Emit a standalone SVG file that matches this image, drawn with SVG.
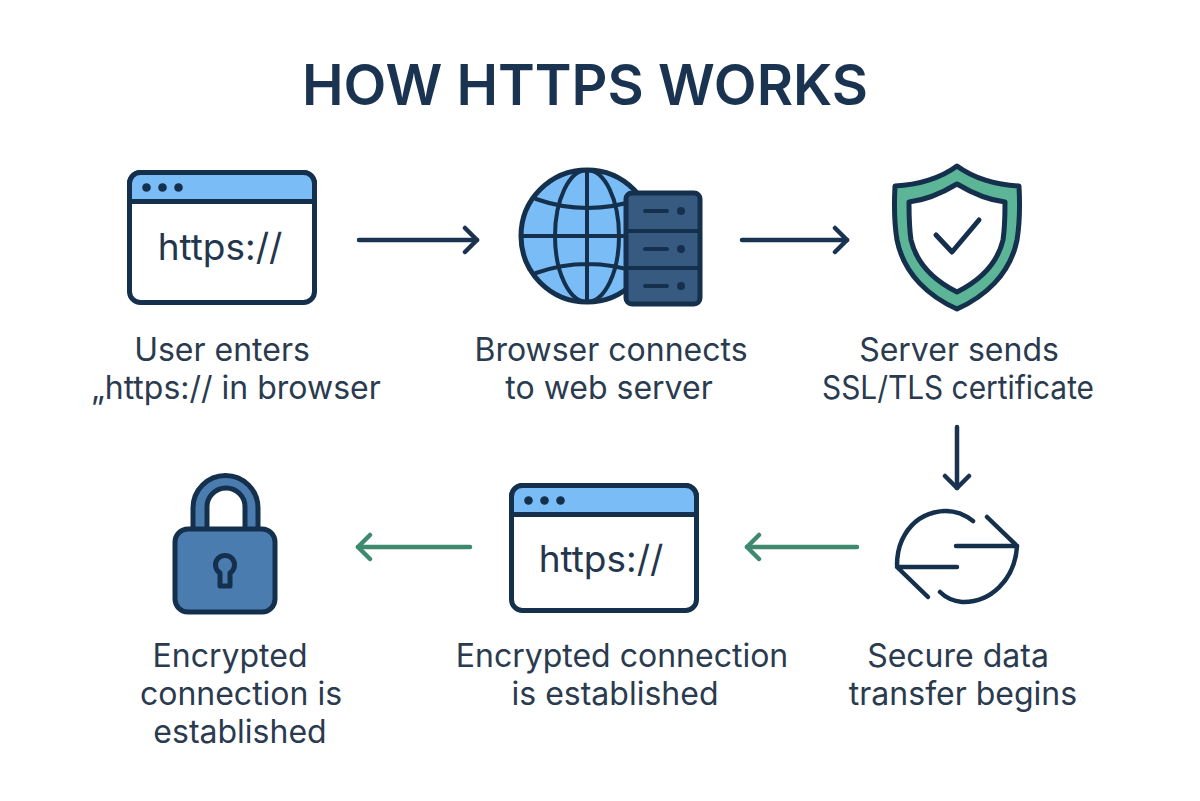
<svg xmlns="http://www.w3.org/2000/svg" width="1200" height="801" viewBox="0 0 1200 801">
<style>
text{font-family:"Inter","Liberation Sans",sans-serif;text-anchor:middle}
.t{font-size:55.7px;font-weight:600;fill:#1a3350}
.l{font-size:32px;fill:#2a3b4f}
.u{font-size:37px;fill:#24364c}
.o{stroke:#15304d;stroke-width:5;stroke-linejoin:round;stroke-linecap:round}
.w{stroke-width:4}
.n{fill:none}
.c{fill:none;stroke-width:4.5;stroke-linecap:round;stroke:#1a3350}
.g{stroke:#3f8a6e}
.d{fill:#15304d}
</style>
<defs>
<marker id="ah" markerUnits="userSpaceOnUse" markerWidth="24" markerHeight="32" refX="15" refY="16" orient="auto"><path d="M3 4L15 16L3 28" fill="none" stroke="#1a3350" stroke-width="4.5" stroke-linecap="round" stroke-linejoin="round"/></marker>
<marker id="ag" markerUnits="userSpaceOnUse" markerWidth="24" markerHeight="32" refX="15" refY="16" orient="auto"><path d="M3 4L15 16L3 28" fill="none" stroke="#3f8a6e" stroke-width="4.5" stroke-linecap="round" stroke-linejoin="round"/></marker>
<g id="bar">
<path d="M0 29V11A11 11 0 0 1 11 0H174A11 11 0 0 1 185 11V29Z" fill="#7abcf5" class="o"/>
<circle cx="17" cy="15" r="4.300" class="d"/><circle cx="33" cy="15" r="4.300" class="d"/><circle cx="49" cy="15" r="4.300" class="d"/>
</g>
</defs>
<rect width="1200" height="801" fill="#fff"/>
<text id="title" x="585" y="105" class="t" textLength="566" lengthAdjust="spacingAndGlyphs">HOW HTTPS WORKS</text>
<g id="connectors">
<path class="c" d="M359 240H477" marker-end="url(#ah)"/>
<path class="c" d="M742 240H847" marker-end="url(#ah)"/>
<path class="c" d="M957 427V488" marker-end="url(#ah)"/>
<path class="c g" d="M857 547H747" marker-end="url(#ag)"/>
<path class="c g" d="M470 547H358" marker-end="url(#ag)"/>
</g>
<g id="node-1">
<rect x="129.500" y="172.500" width="185" height="130" rx="11" fill="#fff" class="o"/>
<use href="#bar" x="129.500" y="172.500"/>
<text x="220" y="260" class="u">https://</text>
<text x="222" y="361" class="l">User enters</text>
<text x="236" y="399" class="l">„https:// in browser</text>
</g>
<g id="node-2">
<circle cx="587" cy="236" r="66" fill="#7abcf5" class="o"/>
<g class="o n w">
<ellipse cx="587" cy="236" rx="32" ry="66"/>
<path d="M587 170V302M521 236H653M536 199Q587 217 640 199M536 273Q587 255 640 273"/>
</g>
<rect x="626" y="193" width="74" height="111" rx="6" fill="#375a80" class="o"/>
<path class="o n w" d="M626 231H700M626 268H700M645 211H667M645 249H667M645 286H667"/>
<circle cx="681" cy="211" r="4" class="d"/><circle cx="681" cy="249" r="4" class="d"/><circle cx="681" cy="286" r="4" class="d"/>
<text x="611" y="361" class="l">Browser connects</text>
<text x="609" y="399" class="l">to web server</text>
</g>
<g id="node-3">
<path class="o" fill="#5bb596" d="M957 166C941 178 918 185 895 186C894 205 894 222 897 240C904 275 930 297 957 309C984 297 1010 275 1017 240C1020 222 1020 205 1019 186C996 185 973 178 957 166Z" stroke-width="4.500"/>
<path class="o" fill="#fff" d="M957 184C942 193 926 200 909 202C909 215 909 227 911 240C917 265 935 281 957 292C979 281 997 265 1003 240C1005 227 1005 215 1005 202C988 200 972 193 957 184Z" stroke-width="4.500"/>
<path class="o n" d="M936 235L952 252L979 220"/>
<text x="959" y="361" class="l">Server sends</text>
<text x="958" y="399" class="l" textLength="272" lengthAdjust="spacingAndGlyphs">SSL/TLS certificate</text>
</g>
<g id="node-4">
<g class="n" stroke="#15304d" stroke-width="4.500" stroke-linecap="round" stroke-linejoin="round">
<path d="M973 521C950 503 916 510 902 540C898 549 897 557 897 565"/>
<path d="M957 567H897L928 597"/>
<path d="M956 546H1017L987 517"/>
<path d="M1017 546C1015 580 990 603 962 602C953 601 946 598 940 592"/>
</g>
<text x="958" y="667" class="l">Secure data</text>
<text x="963" y="705" class="l">transfer begins</text>
</g>
<g id="node-5">
<rect x="511.500" y="485.500" width="185" height="125" rx="11" fill="#fff" class="o"/>
<use href="#bar" x="511.500" y="485.500"/>
<text x="601" y="572" class="u">https://</text>
<text x="622" y="667" class="l">Encrypted connection</text>
<text x="615" y="705" class="l">is established</text>
</g>
<g id="node-6">
<path class="o" fill="#4a7cb0" d="M193 530V508A32.500 32.500 0 0 1 258 508V530H245V507A19 19 0 0 0 207 507V530Z"/>
<rect x="175" y="529" width="100" height="83" rx="13" fill="#4a7cb0" class="o"/>
<path class="o" fill="none" d="M220 573A9.500 9.500 0 1 1 230 573V586H220Z" stroke-width="4.500"/>
<text x="230" y="667" class="l">Encrypted</text>
<text x="241" y="705" class="l">connection is</text>
<text x="240" y="743" class="l">established</text>
</g>
</svg>
